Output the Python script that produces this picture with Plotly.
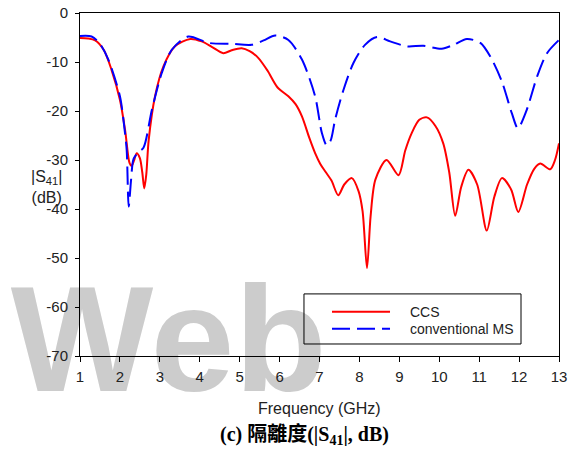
import plotly.graph_objects as go

# ---- data ----
freq_ccs = [1.0, 1.2, 1.38, 1.6, 1.79, 2.0, 2.13, 2.24, 2.29, 2.35, 2.42, 2.5, 2.56, 2.61, 2.66, 2.72, 2.88,
            3.09, 3.38, 3.76, 4.05, 4.3, 4.59, 4.8, 5.05, 5.25, 5.47, 5.7, 5.95, 6.22, 6.4, 6.56, 6.75,
            6.89, 7.02, 7.15, 7.3, 7.47, 7.62, 7.81, 7.98, 8.08, 8.19, 8.28, 8.4, 8.68, 8.98, 9.15, 9.31,
            9.5, 9.69, 9.9, 10.1, 10.25, 10.4, 10.55, 10.73, 10.95, 11.19, 11.38, 11.57, 11.8, 11.98,
            12.2, 12.38, 12.53, 12.78, 12.9, 13.0]
s41_ccs = [-5.1, -5.2, -5.6, -7.6, -11.6, -17.7, -23.9, -30.6, -31.2, -30.2, -28.6, -29.6, -32.5, -35.8,
           -33.0, -26.0, -17.0, -10.9, -6.8, -5.3, -5.8, -6.9, -8.2, -7.6, -7.2, -7.8, -9.2, -11.8, -15.2,
           -17.0, -18.6, -21.1, -25.6, -28.6, -30.8, -32.4, -34.2, -37.2, -35.0, -33.7, -36.4, -40.5,
           -52.1, -41.5, -34.0, -30.0, -33.1, -28.0, -24.5, -21.8, -21.3, -23.0, -26.6, -32.5, -41.4,
           -35.5, -32.0, -35.0, -44.4, -37.5, -33.7, -36.0, -40.6, -35.0, -31.8, -30.7, -31.9, -30.0, -26.6]

freq_ms = [1.0, 1.29, 1.5, 1.71, 2.0, 2.12, 2.17, 2.22, 2.28, 2.34, 2.46, 2.59, 2.8, 3.05, 3.3, 3.71,
           4.22, 4.8, 5.3, 5.6, 5.89, 6.22, 6.56, 6.89, 7.06, 7.18, 7.28, 7.39, 7.6, 7.85, 8.14, 8.44,
           8.77, 9.19, 9.6, 10.06, 10.36, 10.69, 11.03, 11.28, 11.57, 11.82, 11.97, 12.19, 12.45, 12.7, 13.0]
s41_ms = [-4.7, -4.8, -6.3, -9.5, -17.0, -24.0, -28.0, -39.5, -34.0, -29.8, -28.4, -27.5, -19.8, -12.2,
          -7.5, -4.8, -6.1, -6.3, -6.5, -5.6, -4.6, -5.5, -9.5, -17.0, -24.5, -27.0, -26.0, -21.8, -15.7,
          -10.2, -6.5, -4.9, -5.8, -6.8, -6.7, -7.3, -6.5, -5.3, -6.1, -8.9, -14.0, -20.5, -23.5, -19.8,
          -13.0, -8.2, -5.5]

series_names = ["CCS", "conventional MS"]
series_colors = ["#ff0000", "#0000ff"]

x_ticks = list(range(1, 14))
y_ticks = [0, -10, -20, -30, -40, -50, -60, -70]
y_tick_labels = ["0", "-10", "-20", "-30", "-40", "-50", "-60", "-70"]

x_title = "Frequency (GHz)"
y_title = "|S<sub>41</sub>|<br>(dB)"
caption = "<b>(c) 隔離度(|S<sub>41</sub>|, dB)</b>"
watermark = "Web"

# ---- figure ----
TXT = "#222222"
SANS = "Liberation Sans, Arial, sans-serif"

fig = go.Figure()

# watermark (behind axes)
fig.add_trace(go.Scatter(
    x=[3.22], y=[-69.5], mode="text", text=[watermark],
    textfont=dict(family=SANS, size=151, color="#cccccc", weight="bold"),
    textposition="middle center", cliponaxis=False,
    showlegend=False, hoverinfo="skip"))

fig.add_trace(go.Scatter(
    x=freq_ccs, y=s41_ccs, mode="lines", name=series_names[0],
    line=dict(color=series_colors[0], width=2, shape="spline", smoothing=0.8),
    showlegend=False))
fig.add_trace(go.Scatter(
    x=freq_ms, y=s41_ms, mode="lines", name=series_names[1],
    line=dict(color=series_colors[1], width=2, shape="spline", smoothing=0.8, dash="18px,7px"),
    showlegend=False))

fig.update_layout(
    width=576, height=451,
    margin=dict(l=80, r=17, t=13, b=95, autoexpand=False),
    paper_bgcolor="white", plot_bgcolor="white",
    font=dict(family=SANS, color=TXT, size=15),
    xaxis=dict(range=[1, 13], tickvals=x_ticks, ticks="outside", ticklen=5, tickwidth=1,
               tickcolor="black", showline=True, linecolor="black", linewidth=1, mirror=True,
               showgrid=False, zeroline=False, tickfont=dict(size=15, color=TXT),
               ticklabelstandoff=2, automargin=False),
    yaxis=dict(range=[-70, 0], tickvals=y_ticks, ticktext=y_tick_labels, ticks="outside",
               ticklen=4, tickwidth=1, tickcolor="black", showline=True, linecolor="black",
               linewidth=1, mirror=True, showgrid=False, zeroline=False,
               tickfont=dict(size=15, color=TXT), ticklabelstandoff=4, automargin=False),
)

# axis titles and caption
fig.add_annotation(text=y_title, xref="paper", yref="paper", x=-0.1065, y=0.494,
                   showarrow=False, align="center", font=dict(size=16, color=TXT))
fig.add_annotation(text=x_title, xref="paper", yref="paper", x=0.5, y=-0.1517,
                   yanchor="middle", showarrow=False, font=dict(size=16, color=TXT))
fig.add_annotation(text=caption, xref="paper", yref="paper", x=0.4697, y=-0.233,
                   yanchor="middle", showarrow=False,
                   font=dict(family="Liberation Serif, Noto Sans CJK TC, serif", size=20, color="black"))

# legend box drawn with shapes
lx0, lx1, ly0, ly1 = 0.4676, 0.9207, 0.035, 0.181
fig.add_shape(type="rect", xref="paper", yref="paper", x0=lx0, x1=lx1, y0=ly0, y1=ly1,
              line=dict(color="black", width=1), fillcolor="rgba(0,0,0,0)")
legend_rows = [0.1293, 0.0797]
for name, color, yy, dash in zip(series_names, series_colors, legend_rows, ["solid", "18px,7px"]):
    fig.add_shape(type="line", xref="paper", yref="paper", x0=0.5261, x1=0.6472, y0=yy, y1=yy,
                  line=dict(color=color, width=2, dash=dash))
    fig.add_annotation(text=name, xref="paper", yref="paper", x=0.6848, y=yy, xanchor="left",
                       yanchor="middle", showarrow=False, font=dict(size=14, color=TXT))

fig.write_html("out.html")
